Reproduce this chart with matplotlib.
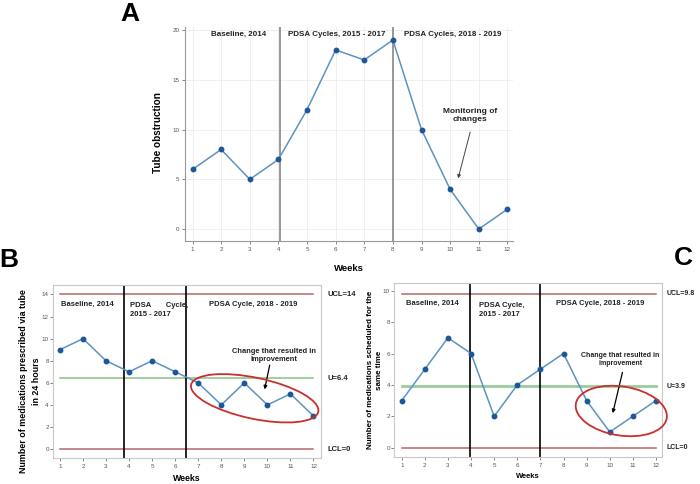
import numpy as np
import matplotlib
matplotlib.use('Agg')
import matplotlib.pyplot as plt
from matplotlib.patches import Ellipse
from matplotlib.transforms import Affine2D

plt.rcParams['font.family'] = ['Liberation Sans', 'DejaVu Sans']

# --- data ---
weeks = np.arange(1, 13)
tube_obstruction = [6, 8, 5, 7, 12, 18, 17, 19, 10, 4, 0, 2]
meds_tube_24h = [9, 10, 8, 7, 8, 7, 6, 4, 6, 4, 5, 3]
meds_same_time = [3, 5, 7, 6, 2, 4, 5, 6, 3, 1, 2, 3]

ucl_b, u_b, lcl_b = 14, 6.4, 0
ucl_c, u_c, lcl_c = 9.8, 3.9, 0

phase_a = [4.05, 8.02]
phase_b = [3.78, 6.47]
phase_c = [3.95, 6.97]

line_col = '#5d93bf'
mark_col = '#1d5699'
limit_col = '#b9676a'
mean_col = '#86c086'
ell_col = '#c8302e'
txt_col = '#222222'

fig = plt.figure(figsize=(7, 4.84), dpi=100)


def series(ax, y):
    ax.plot(weeks, y, color=line_col, lw=1.1, zorder=3)
    ax.plot(weeks, y, 'o', color=mark_col, ms=3.2, zorder=4)


def ticks(ax, yt):
    ax.set_xticks(weeks)
    ax.set_yticks(yt)
    ax.tick_params(labelsize=4.5, colors='#555555', length=2, width=0.5, pad=2)


def label(ax, x, y, s, size, **kw):
    kw.setdefault('ha', 'center')
    kw.setdefault('va', 'center')
    ax.text(x, y, s, fontsize=size, fontweight='bold', color=txt_col, **kw)


def ellipse(ax, cx, cy, w, h, ang):
    px, py = ax.transData.transform((cx, cy))
    e = Ellipse((0, 0), w, h, angle=ang, fill=False, ec=ell_col, lw=1.3,
                transform=Affine2D().translate(px, py), clip_on=False, zorder=5)
    fig.add_artist(e)


def note(ax, s, pos, tail, head, size, col='black', lw=0.9):
    label(ax, pos[0], pos[1], s, size)
    ax.annotate('', xy=head, xytext=tail,
                arrowprops=dict(arrowstyle='-|>', color=col, lw=lw,
                                mutation_scale=5, shrinkA=0, shrinkB=0))


def ylab(ax, s, size, x, y, ls=1.2):
    ax.set_ylabel(s, fontsize=size, fontweight='bold', linespacing=ls)
    ax.yaxis.set_label_coords(x, y)


# --- panel A ---
ax = fig.add_axes([0.264, 0.502, 0.469, 0.442])
series(ax, tube_obstruction)
ax.set_xlim(0.73, 12.2)
ax.set_ylim(-1.2, 20.3)
ticks(ax, [0, 5, 10, 15, 20])
ax.grid(True, color='#ececec', lw=0.6)
for s in ['top', 'right']:
    ax.spines[s].set_visible(False)
for s in ['left', 'bottom']:
    ax.spines[s].set_color('#999999')
for x in phase_a:
    ax.axvline(x, color='#888888', lw=1.2, zorder=2)
label(ax, 2.6, 19.6, 'Baseline, 2014', 5.8)
label(ax, 6.05, 19.6, 'PDSA Cycles, 2015 - 2017', 5.8)
label(ax, 10.1, 19.6, 'PDSA Cycles, 2018 - 2019', 5.8)
note(ax, 'Monitoring of\nchanges', (10.7, 11.4), (10.7, 9.75), (10.28, 5.1), 6,
     col='#444444', lw=0.7)
ax.set_xlabel('Weeks', fontsize=6.8, fontweight='bold', labelpad=9)
ylab(ax, 'Tube obstruction', 7.2, -0.065, 0.507)
fig.text(130 / 700, 1 - 14 / 484, 'A', fontsize=19, fontweight='bold', ha='center', va='center')

# --- panel B ---
ax = fig.add_axes([0.0757, 0.0537, 0.383, 0.357])
series(ax, meds_tube_24h)
ax.set_xlim(0.7, 12.33)
ax.set_ylim(-0.81, 14.84)
ticks(ax, [0, 2, 4, 6, 8, 10, 12, 14])
ax.tick_params(axis='y', pad=1)
for s in ax.spines.values():
    s.set_color('#c8c8c8')
ax.plot([1, 12], [ucl_b, ucl_b], color=limit_col, lw=1.1, zorder=2)
ax.plot([1, 12], [lcl_b, lcl_b], color=limit_col, lw=1.1, zorder=2)
ax.plot([1, 12], [u_b, u_b], color=mean_col, lw=1.1, zorder=2)
for x in phase_b:
    ax.axvline(x, color='black', lw=1.2, zorder=2)
label(ax, 1.05, 13.1, 'Baseline, 2014', 5.5, ha='left')
label(ax, 4.05, 12.6, 'PDSA       Cycle,\n2015 - 2017', 5.5, ha='left', linespacing=1.5)
label(ax, 9.4, 13.1, 'PDSA Cycle, 2018 - 2019', 5.5)
note(ax, 'Change that resulted in\nimprovement', (10.3, 8.5), (10.1, 7.6), (9.88, 5.4), 5.4)
label(ax, 12.6, ucl_b, 'UCL=14', 5.5, ha='left')
label(ax, 12.6, u_b, 'U=6.4', 5.5, ha='left')
label(ax, 12.6, lcl_b, 'LCL=0', 5.5, ha='left')
ax.set_xlabel('Weeks', fontsize=6.3, fontweight='bold', labelpad=4)
ylab(ax, 'Number of medications prescribed via tube\nin 24 hours', 6.4, -0.045, 0.445, ls=1.5)
ellipse(ax, 9.45, 4.6, 130, 41, -12)
fig.text(9 / 700, 1 - 260 / 484, 'B', fontsize=19, fontweight='bold', ha='center', va='center')

# --- panel C ---
ax = fig.add_axes([0.563, 0.0558, 0.383, 0.3595])
series(ax, meds_same_time)
ax.set_xlim(0.67, 12.27)
ax.set_ylim(-0.59, 10.49)
ticks(ax, [0, 2, 4, 6, 8, 10])
ax.tick_params(axis='y', pad=1)
for s in ax.spines.values():
    s.set_color('#c8c8c8')
ax.plot([1, 12], [ucl_c, ucl_c], color=limit_col, lw=1.1, zorder=2)
ax.plot([1, 12], [lcl_c, lcl_c], color=limit_col, lw=1.1, zorder=2)
ax.plot([1, 12], [u_c, u_c], color='#9ccc9c', lw=2.0, zorder=2)
for x in phase_c:
    ax.axvline(x, color='black', lw=1.2, zorder=2)
label(ax, 1.2, 9.2, 'Baseline, 2014', 5.5, ha='left')
label(ax, 4.35, 8.75, 'PDSA Cycle,\n2015 - 2017', 5.5, ha='left', linespacing=1.4)
label(ax, 9.6, 9.2, 'PDSA Cycle, 2018 - 2019', 5.5)
note(ax, 'Change that resulted in\nimprovement', (10.45, 5.6), (10.55, 4.8), (10.13, 2.2), 5)
label(ax, 12.45, ucl_c, 'UCL=9.8', 5, ha='left')
label(ax, 12.45, u_c, 'U=3.9', 5, ha='left')
label(ax, 12.45, lcl_c, 'LCL=0', 5, ha='left')
ax.set_xlabel('Weeks', fontsize=5.4, fontweight='bold', labelpad=4)
ylab(ax, 'Number of medications scheduled for the\nsame time', 5.8, -0.04, 0.5, ls=1.4)
ellipse(ax, 10.5, 2.34, 92, 49, -9)
fig.text(683 / 700, 1 - 258 / 484, 'C', fontsize=19, fontweight='bold', ha='center', va='center')

fig.savefig('out.png', dpi=100)
